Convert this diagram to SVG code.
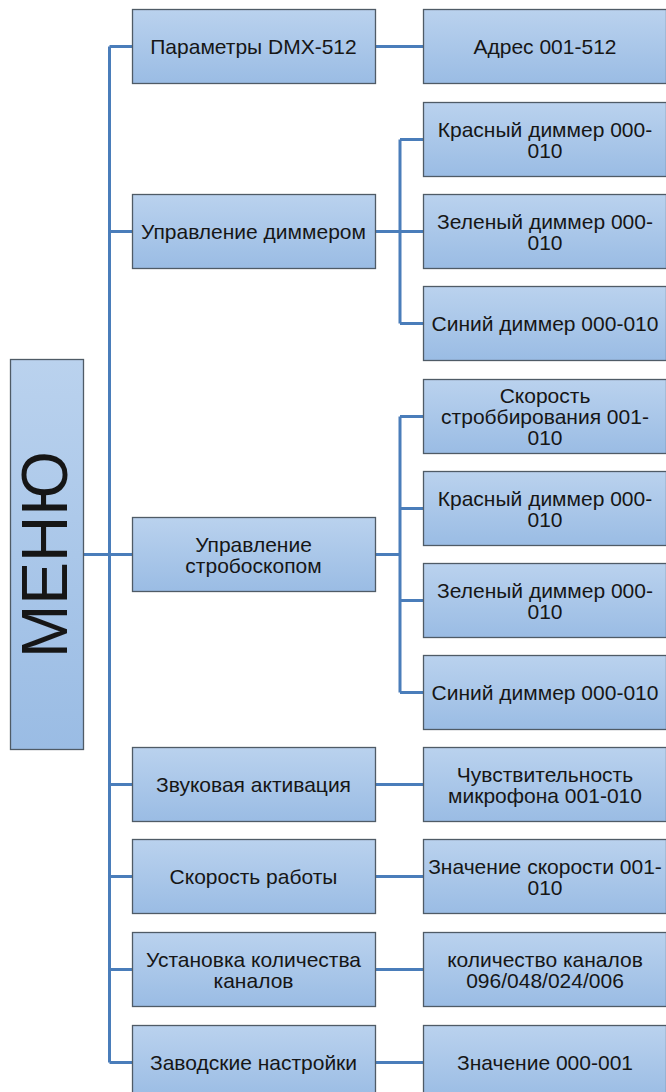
<svg xmlns="http://www.w3.org/2000/svg" width="666" height="1092" viewBox="0 0 666 1092">
<defs>
<linearGradient id="g" x1="0" y1="0" x2="0" y2="1">
<stop offset="0" stop-color="#bad2ee"/>
<stop offset="1" stop-color="#9abce4"/>
</linearGradient>
<style>
.b{fill:url(#g);stroke:#4f5b66;stroke-width:1.3}
.t{font-family:"Liberation Sans",Arial,sans-serif;font-size:21px;fill:#161616;text-anchor:middle}
.c{fill:none;stroke:#4a7dba;stroke-width:3}
</style>
</defs>
<rect width="666" height="1092" fill="#ffffff"/>
<g id="connectors">
<path class="c" d="M109.5 46.5V1062.5"/>
<path class="c" d="M84 554.5H132"/>
<path class="c" d="M109.5 46.5H132M109.5 231.5H132M109.5 784.5H132M109.5 876.5H132M109.5 969.5H132M109.5 1062.5H132"/>
<path class="c" d="M375 46.5H423M375 784.5H423M375 876.5H423M375 969.5H423M375 1062.5H423"/>
<path class="c" d="M375 231.5H400M400 139.5V323.5M400 139.5H423M400 231.5H423M400 323.5H423"/>
<path class="c" d="M375 554.5H400M400 416.5V692.5M400 416.5H423M400 508.5H423M400 600.5H423M400 692.5H423"/>
</g>
<g id="menu">
<rect class="b" x="10.5" y="359.5" width="73" height="390"/>
<text transform="translate(67,554.5) rotate(-90)" style="font-family:'Liberation Sans',Arial,sans-serif;font-size:64px;fill:#161616;text-anchor:middle">МЕНЮ</text>
</g>
<g id="dmx">
<rect class="b" x="132.5" y="9.5" width="243" height="74"/>
<text class="t" x="253.5" y="54">Параметры DMX-512</text>
</g>
<g id="address">
<rect class="b" x="423.5" y="9.5" width="243" height="74"/>
<text class="t" x="545" y="54">Адрес 001-512</text>
</g>
<g id="dimmer">
<rect class="b" x="132.5" y="194.5" width="243" height="74"/>
<text class="t" x="253.5" y="239">Управление диммером</text>
</g>
<g id="red1">
<rect class="b" x="423.5" y="102.5" width="243" height="74"/>
<text class="t" x="545" y="136.5">Красный диммер 000-</text>
<text class="t" x="545" y="157.5">010</text>
</g>
<g id="green1">
<rect class="b" x="423.5" y="194.5" width="243" height="74"/>
<text class="t" x="545" y="228.5">Зеленый диммер 000-</text>
<text class="t" x="545" y="249.5">010</text>
</g>
<g id="blue1">
<rect class="b" x="423.5" y="286.5" width="243" height="74"/>
<text class="t" x="545" y="331">Синий диммер 000-010</text>
</g>
<g id="strobe">
<rect class="b" x="132.5" y="517.5" width="243" height="74"/>
<text class="t" x="253.5" y="551.5">Управление</text>
<text class="t" x="253.5" y="572.5">стробоскопом</text>
</g>
<g id="strobespeed">
<rect class="b" x="423.5" y="379.5" width="243" height="74"/>
<text class="t" x="545" y="403">Скорость</text>
<text class="t" x="545" y="424">строббирования 001-</text>
<text class="t" x="545" y="445">010</text>
</g>
<g id="red2">
<rect class="b" x="423.5" y="471.5" width="243" height="74"/>
<text class="t" x="545" y="505.5">Красный диммер 000-</text>
<text class="t" x="545" y="526.5">010</text>
</g>
<g id="green2">
<rect class="b" x="423.5" y="563.5" width="243" height="74"/>
<text class="t" x="545" y="597.5">Зеленый диммер 000-</text>
<text class="t" x="545" y="618.5">010</text>
</g>
<g id="blue2">
<rect class="b" x="423.5" y="655.5" width="243" height="74"/>
<text class="t" x="545" y="700">Синий диммер 000-010</text>
</g>
<g id="sound">
<rect class="b" x="132.5" y="747.5" width="243" height="74"/>
<text class="t" x="253.5" y="792">Звуковая активация</text>
</g>
<g id="mic">
<rect class="b" x="423.5" y="747.5" width="243" height="74"/>
<text class="t" x="545" y="781.5">Чувствительность</text>
<text class="t" x="545" y="802.5">микрофона 001-010</text>
</g>
<g id="speed">
<rect class="b" x="132.5" y="839.5" width="243" height="74"/>
<text class="t" x="253.5" y="884">Скорость работы</text>
</g>
<g id="speedval">
<rect class="b" x="423.5" y="839.5" width="243" height="74"/>
<text class="t" x="545" y="873.5">Значение скорости 001-</text>
<text class="t" x="545" y="894.5">010</text>
</g>
<g id="channels">
<rect class="b" x="132.5" y="932.5" width="243" height="74"/>
<text class="t" x="253.5" y="966.5">Установка количества</text>
<text class="t" x="253.5" y="987.5">каналов</text>
</g>
<g id="channelsval">
<rect class="b" x="423.5" y="932.5" width="243" height="74"/>
<text class="t" x="545" y="966.5">количество каналов</text>
<text class="t" x="545" y="987.5">096/048/024/006</text>
</g>
<g id="factory">
<rect class="b" x="132.5" y="1025.5" width="243" height="74"/>
<text class="t" x="253.5" y="1070">Заводские настройки</text>
</g>
<g id="factoryval">
<rect class="b" x="423.5" y="1025.5" width="243" height="74"/>
<text class="t" x="545" y="1070">Значение 000-001</text>
</g>
</svg>
